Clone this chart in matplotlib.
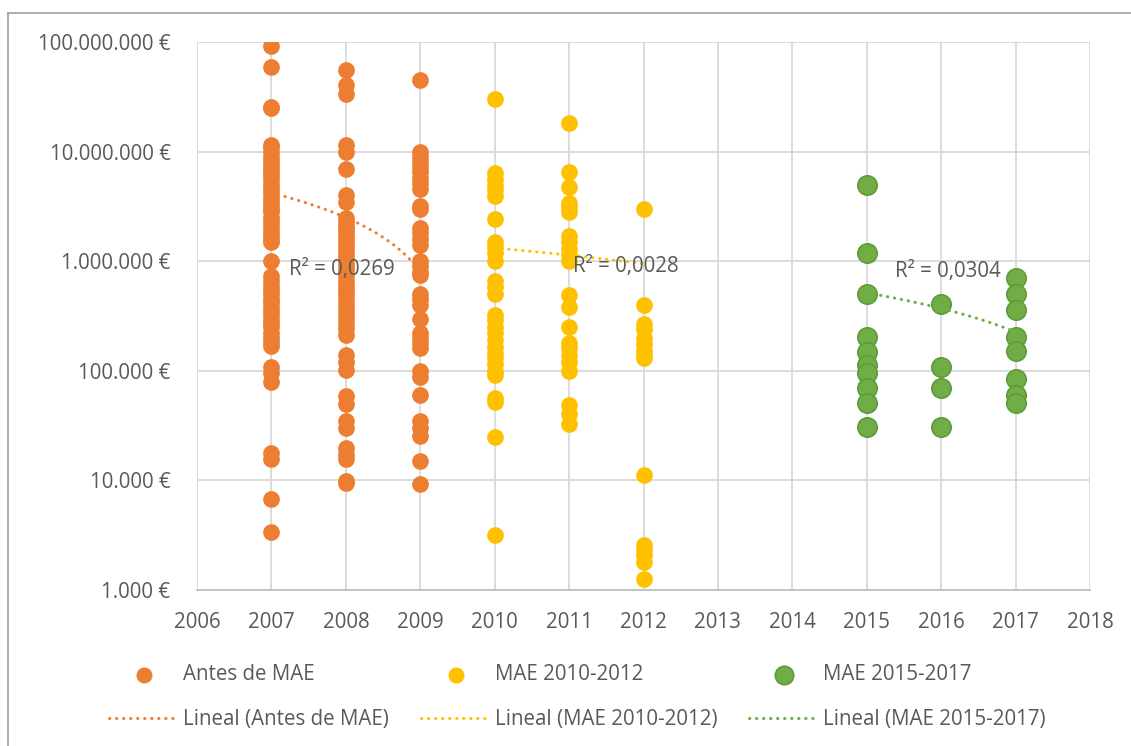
import numpy as np
import matplotlib
matplotlib.use("Agg")
import matplotlib.pyplot as plt
from matplotlib.lines import Line2D
from matplotlib.ticker import FixedLocator, FuncFormatter

plt.rcParams["font.family"] = ["Open Sans", "DejaVu Sans"]

# --- data (values in €) ---
antes_2007 = [92e6, 59e6, 25.5e6, 25e6, 11.5e6, 11e6, 10e6, 9e6, 8.2e6, 7.5e6, 7e6,
              6.5e6, 6e6, 5.5e6, 5e6, 4.6e6, 4.2e6, 3.8e6, 3.5e6, 3.2e6, 3e6, 2.8e6,
              2.5e6, 2.3e6, 2.1e6, 1.9e6, 1.75e6, 1.6e6, 1.5e6, 1.0e6, 0.73e6, 0.66e6,
              0.6e6, 0.55e6, 0.5e6, 0.45e6, 0.42e6, 0.38e6, 0.35e6, 0.32e6, 0.29e6,
              0.27e6, 0.25e6, 0.22e6, 0.2e6, 0.185e6, 0.17e6, 108e3, 95e3, 79e3,
              17.8e3, 15.7e3, 6.8e3, 3.4e3]
antes_2008 = [55.6e6, 40.5e6, 33.6e6, 11.5e6, 10e6, 6.9e6, 4.0e6, 3.47e6, 2.5e6, 2.3e6,
              2.1e6, 1.95e6, 1.8e6, 1.65e6, 1.5e6, 1.38e6, 1.25e6, 1.15e6, 1.05e6,
              0.95e6, 0.87e6, 0.8e6, 0.73e6, 0.66e6, 0.6e6, 0.55e6, 0.5e6, 0.45e6,
              0.41e6, 0.37e6, 0.33e6, 0.3e6, 0.27e6, 0.24e6, 0.21e6, 139e3, 120e3,
              101e3, 59e3, 50e3, 35e3, 30e3, 19.8e3, 17.5e3, 15.7e3, 9.9e3, 9.5e3]
antes_2009 = [45e6, 10e6, 9e6, 8e6, 7.2e6, 6.5e6, 5.8e6, 5.2e6, 4.6e6, 3.2e6, 3.0e6,
              2.0e6, 1.8e6, 1.6e6, 1.4e6, 1.0e6, 0.9e6, 0.8e6, 0.75e6, 0.5e6, 0.45e6,
              0.4e6, 0.3e6, 0.22e6, 0.2e6, 0.18e6, 0.16e6, 100e3, 88e3, 60e3, 35e3,
              30e3, 25.5e3, 15e3, 9.3e3]
mae10_2010 = [30e6, 6.4e6, 5.6e6, 5e6, 4.5e6, 3.9e6, 2.43e6, 1.5e6, 1.35e6, 1.2e6, 1.0e6,
              660e3, 580e3, 500e3, 323e3, 290e3, 250e3, 220e3, 190e3, 165e3, 145e3,
              130e3, 115e3, 100e3, 91e3, 57e3, 52e3, 24.9e3, 3.2e3]
mae10_2011 = [18.2e6, 6.5e6, 4.8e6, 3.4e6, 3.1e6, 2.8e6, 1.7e6, 1.5e6, 1.3e6, 1.15e6,
              1.0e6, 490e3, 382e3, 251e3, 180e3, 160e3, 140e3, 120e3, 100e3, 49e3,
              40e3, 33e3]
mae10_2012 = [3.0e6, 398e3, 270e3, 240e3, 200e3, 175e3, 155e3, 140e3, 131e3, 11.2e3,
              2.55e3, 2.3e3, 2.1e3, 1.8e3, 1.26e3]
mae15_2015 = [4.96e6, 1.2e6, 499e3, 205e3, 149e3, 113e3, 95e3, 69e3, 50.5e3, 30.9e3]
mae15_2016 = [404e3, 109e3, 69e3, 30.5e3]
mae15_2017 = [698e3, 499e3, 359e3, 202e3, 152e3, 85e3, 60e3, 50.5e3]

# linear trend lines (Excel "Lineal"), start/end values
trend_antes = ([2007, 2009], [4.2e6, 0.8e6], "R² = 0,0269")
trend_mae10 = ([2010, 2012], [1.32e6, 0.95e6], "R² = 0,0028")
trend_mae15 = ([2015, 2017], [0.515e6, 0.226e6], "R² = 0,0304")

orange, yellow, green = "#ED7D31", "#FFC000", "#70AD47"
text_col = "#595959"
grid_col = "#D9D9D9"
fs = 14.8

fig = plt.figure(figsize=(11.31, 7.46), dpi=100)
ax = fig.add_axes([197 / 1131, 1 - 590 / 746, (1090 - 197) / 1131, (590 - 42) / 746])

series = [
    ("Antes de MAE", orange, orange, 117,
     [(2007, antes_2007), (2008, antes_2008), (2009, antes_2009)], trend_antes),
    ("MAE 2010-2012", yellow, yellow, 117,
     [(2010, mae10_2010), (2011, mae10_2011), (2012, mae10_2012)], trend_mae10),
    ("MAE 2015-2017", green, "#5E9C3A", 195,
     [(2015, mae15_2015), (2016, mae15_2016), (2017, mae15_2017)], trend_mae15),
]

handles = []
for name, col, edge, size, cols, trend in series:
    xs = np.concatenate([[yr] * len(v) for yr, v in cols])
    ys = np.concatenate([v for yr, v in cols])
    sc = ax.scatter(xs, ys, s=size, color=col, edgecolors=edge, linewidths=1.2,
                    zorder=3, label=name)
    handles.append(sc)

for name, col, edge, size, cols, trend in series:
    tx, tv, r2 = trend
    x = np.linspace(tx[0], tx[1], 60)
    y = np.interp(x, tx, tv)
    ln, = ax.plot(x, y, color=col, lw=2.2, linestyle=(0, (0.1, 2.2)),
                  dash_capstyle="round", zorder=4, label=f"Lineal ({name})")
    handles.append(ln)

ax.text(2007.24, 0.75e6, trend_antes[2], fontsize=fs, color=text_col, zorder=5)
ax.text(2011.05, 0.80e6, trend_mae10[2], fontsize=fs, color=text_col, zorder=5)
ax.text(2015.38, 0.72e6, trend_mae15[2], fontsize=fs, color=text_col, zorder=5)

ax.set_yscale("log")
ax.set_ylim(1e3, 1e8)
ax.set_xlim(2006, 2018)
ax.xaxis.set_major_locator(FixedLocator(range(2006, 2019)))
ax.yaxis.set_major_locator(FixedLocator([1e3, 1e4, 1e5, 1e6, 1e7, 1e8]))
ax.yaxis.set_minor_locator(FixedLocator([]))
ax.yaxis.set_major_formatter(FuncFormatter(lambda v, p: f"{int(v):,} €".replace(",", ".")))
ax.grid(True, color=grid_col, lw=1.3, zorder=0)
ax.set_axisbelow(True)
for s in ["left", "right", "top"]:
    ax.spines[s].set_visible(False)
ax.spines["bottom"].set_color("#BFBFBF")
ax.spines["bottom"].set_linewidth(1.3)
ax.tick_params(length=0, labelsize=fs, colors=text_col)
ax.tick_params(axis="y", pad=19)
ax.tick_params(axis="x", pad=16)

order = [handles[0], handles[3], handles[1], handles[4], handles[2], handles[5]]
fig.legend(handles=order, labels=[h.get_label() for h in order], ncol=3,
           loc="center left", bbox_to_anchor=(99 / 1131, 1 - 697 / 746),
           frameon=False, borderpad=0, fontsize=fs, labelcolor=text_col,
           handlelength=3.4, handletextpad=0.2, columnspacing=1.55,
           labelspacing=1.15, scatterpoints=1, markerscale=0.95)

# outer chart border (left and top edges visible in the reference)
fig.add_artist(Line2D([8 / 1131, 8 / 1131], [0, 1 - 13 / 746],
                      transform=fig.transFigure, color="#A6A6A6", lw=1.3))
fig.add_artist(Line2D([8 / 1131, 1], [1 - 13 / 746, 1 - 13 / 746],
                      transform=fig.transFigure, color="#A6A6A6", lw=1.3))
fig.savefig("out.png", dpi=100)
